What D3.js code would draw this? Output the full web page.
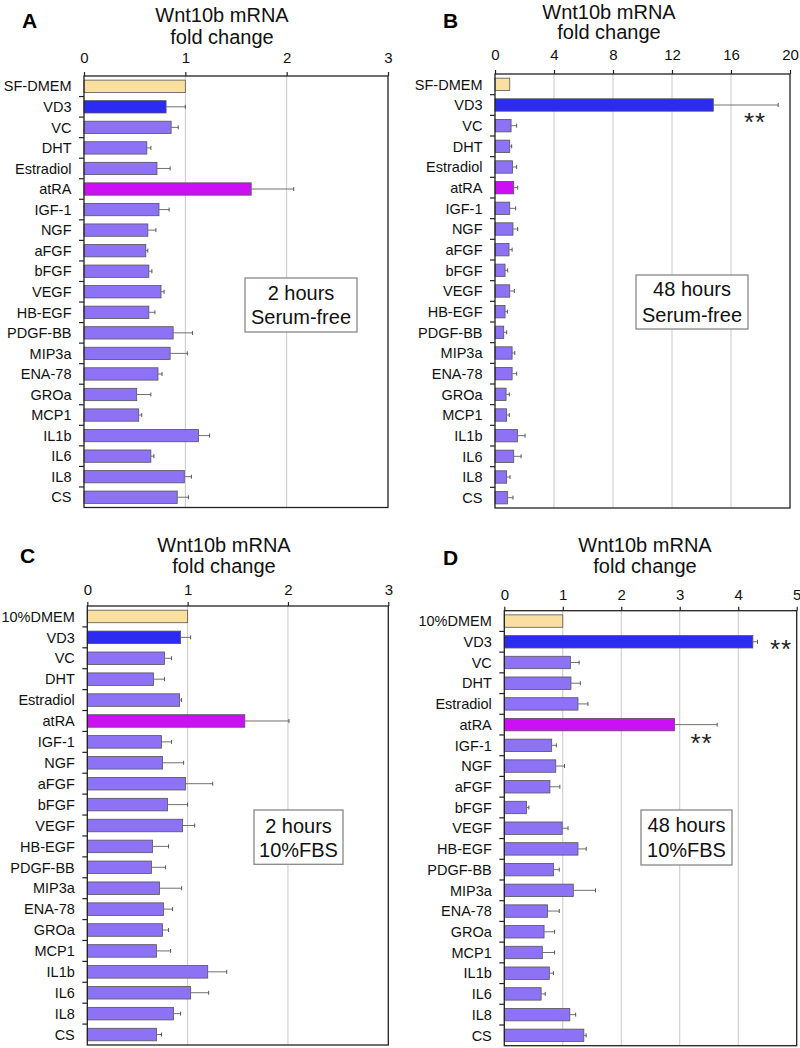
<!DOCTYPE html>
<html>
<head>
<meta charset="utf-8">
<script src="https://cdn.jsdelivr.net/npm/d3@7"></script>
<style>
  html, body { margin: 0; padding: 0; background: #fff; }
  svg { display: block; font-family: "Liberation Sans", Arial, sans-serif; }
</style>
</head>
<body>
<svg id="chart" width="800" height="1048"></svg>
<script>
// ---------- DATA ----------
const catsSF = ["SF-DMEM","VD3","VC","DHT","Estradiol","atRA","IGF-1","NGF","aFGF","bFGF","VEGF","HB-EGF","PDGF-BB","MIP3a","ENA-78","GROa","MCP1","IL1b","IL6","IL8","CS"];
const catsFBS = ["10%DMEM","VD3","VC","DHT","Estradiol","atRA","IGF-1","NGF","aFGF","bFGF","VEGF","HB-EGF","PDGF-BB","MIP3a","ENA-78","GROa","MCP1","IL1b","IL6","IL8","CS"];

const valuesA = [1.0,0.81,0.86,0.62,0.72,1.65,0.74,0.63,0.61,0.64,0.76,0.64,0.88,0.85,0.73,0.52,0.54,1.13,0.66,0.99,0.92];
const errorsA = [0,0.19,0.07,0.04,0.13,0.42,0.10,0.08,0.02,0.03,0.03,0.06,0.19,0.17,0.04,0.14,0.03,0.11,0.03,0.07,0.11];

const valuesB = [1.0,14.8,1.09,1.0,1.18,1.27,1.0,1.22,0.95,0.68,1.0,0.68,0.59,1.16,1.16,0.75,0.79,1.52,1.27,0.79,0.84];
const errorsB = [0,4.4,0.38,0.13,0.29,0.27,0.40,0.32,0.21,0.18,0.31,0.16,0.20,0.18,0.31,0.22,0.18,0.52,0.50,0.23,0.38];

const valuesC = [1.0,0.93,0.77,0.66,0.92,1.57,0.74,0.75,0.98,0.80,0.95,0.65,0.64,0.72,0.76,0.75,0.69,1.20,1.03,0.86,0.69];
const errorsC = [0,0.10,0.07,0.11,0.02,0.44,0.10,0.21,0.27,0.20,0.12,0.16,0.14,0.22,0.09,0.06,0.14,0.19,0.18,0.07,0.05];

const valuesD = [1.0,4.25,1.13,1.14,1.26,2.91,0.81,0.88,0.78,0.38,0.99,1.26,0.84,1.18,0.74,0.68,0.65,0.77,0.63,1.12,1.36];
const errorsD = [0,0.08,0.15,0.16,0.17,0.73,0.08,0.15,0.17,0.04,0.10,0.14,0.10,0.38,0.20,0.18,0.21,0.07,0.07,0.10,0.04];

const ticksA = [0,1,2,3];
const ticksB = [0,4,8,12,16,20];
const ticksC = [0,1,2,3];
const ticksD = [0,1,2,3,4,5];

const titleLines = ["Wnt10b mRNA","fold change"];
const boxA = ["2 hours","Serum-free"];
const boxB = ["48 hours","Serum-free"];
const boxC = ["2 hours","10%FBS"];
const boxD = ["48 hours","10%FBS"];

// ---------- STYLE ----------
const colorControl = "#F9E0A0";
const colorVD3 = "#2B2BF2";
const colorAtRA = "#CC0FF5";
const colorOther = "#8E72F6";
function barColor(cat, i) {
  if (i === 0) return colorControl;
  if (cat === "VD3") return colorVD3;
  if (cat === "atRA") return colorAtRA;
  return colorOther;
}

const svg = d3.select("#chart");

function panel(cfg) {
  const g = svg.append("g");
  const x = d3.scaleLinear().domain([0, cfg.ticks[cfg.ticks.length-1]]).range([cfg.x0, cfg.x1]);
  const y = d3.scaleBand().domain(cfg.cats).range([cfg.y0, cfg.y1]).paddingInner(0.4).paddingOuter(0.2);
  const step = y.step();

  // gridlines
  g.append("g").selectAll("line").data(cfg.ticks.slice(1, -1)).join("line")
    .attr("x1", d => x(d)).attr("x2", d => x(d))
    .attr("y1", cfg.y0).attr("y2", cfg.y1)
    .attr("stroke", "#c8c8c8").attr("stroke-width", 1);

  // bars
  const data = cfg.cats.map((c, i) => ({cat: c, v: cfg.values[i], e: cfg.errors[i], i}));
  g.append("g").selectAll("rect").data(data).join("rect")
    .attr("x", x(0)).attr("y", d => y(d.cat))
    .attr("width", d => x(d.v) - x(0)).attr("height", y.bandwidth())
    .attr("fill", d => barColor(d.cat, d.i))
    .attr("stroke", "#555").attr("stroke-width", 0.8);

  // error bars
  const eg = g.append("g").selectAll("g").data(data.filter(d => d.e > 0)).join("g");
  eg.append("line")
    .attr("x1", d => x(d.v)).attr("x2", d => x(d.v + d.e))
    .attr("y1", d => y(d.cat) + y.bandwidth()/2).attr("y2", d => y(d.cat) + y.bandwidth()/2)
    .attr("stroke", "#707070").attr("stroke-width", 1);
  eg.append("line")
    .attr("x1", d => x(d.v + d.e)).attr("x2", d => x(d.v + d.e))
    .attr("y1", d => y(d.cat) + y.bandwidth()/2 - 2).attr("y2", d => y(d.cat) + y.bandwidth()/2 + 2)
    .attr("stroke", "#555").attr("stroke-width", 1);

  // frame
  g.append("rect").attr("x", cfg.x0).attr("y", cfg.y0)
    .attr("width", cfg.x1 - cfg.x0).attr("height", cfg.y1 - cfg.y0)
    .attr("fill", "none").attr("stroke", "#222").attr("stroke-width", 1.3);

  // top axis ticks + labels
  const topAxis = d3.axisTop(x).tickValues(cfg.ticks).tickSize(4).tickPadding(cfg.tickPad).tickFormat(d3.format("d"));
  const ta = g.append("g").attr("transform", `translate(0,${cfg.y0})`).call(topAxis);
  ta.select(".domain").remove();
  ta.selectAll("line").attr("stroke", "#222").attr("stroke-width", 1.2);
  ta.selectAll("text").attr("font-size", 15).attr("fill", "#111")
    .attr("font-family", "Liberation Sans, Arial, sans-serif");

  // left category boundary ticks
  g.append("g").selectAll("line").data(d3.range(1, cfg.cats.length)).join("line")
    .attr("x1", cfg.x0 - 5).attr("x2", cfg.x0)
    .attr("y1", i => cfg.y0 + i*step).attr("y2", i => cfg.y0 + i*step)
    .attr("stroke", "#222").attr("stroke-width", 1.2);

  // category labels
  g.append("g").selectAll("text").data(cfg.cats).join("text")
    .attr("x", cfg.x0 - 12.5).attr("y", d => y(d) + y.bandwidth()/2)
    .attr("dy", "0.36em").attr("text-anchor", "end")
    .attr("font-size", 14.5).attr("fill", "#111").text(d => d);

  // title
  g.append("g").selectAll("text").data(titleLines).join("text")
    .attr("x", cfg.titleX).attr("y", (d, i) => cfg.titleY[i])
    .attr("text-anchor", "middle").attr("font-size", 20).attr("fill", "#111").text(d => d);

  // panel letter
  g.append("text").attr("x", cfg.letterX).attr("y", cfg.letterY)
    .attr("font-size", 21).attr("font-weight", "bold").attr("fill", "#000").text(cfg.letter);

  // condition box
  g.append("rect").attr("x", cfg.box[0]).attr("y", cfg.box[1])
    .attr("width", cfg.box[2]).attr("height", cfg.box[3])
    .attr("fill", "#fff").attr("stroke", "#888").attr("stroke-width", 1.3);
  g.append("g").selectAll("text").data(cfg.boxText).join("text")
    .attr("x", cfg.box[0] + cfg.box[2]/2).attr("y", (d, i) => cfg.boxY[i])
    .attr("text-anchor", "middle").attr("font-size", 20).attr("fill", "#111").text(d => d);

  // significance stars
  (cfg.stars || []).forEach(s => {
    g.append("text").attr("x", s.x).attr("y", s.y)
      .attr("text-anchor", "middle").attr("font-size", 26).attr("letter-spacing", 1)
      .attr("fill", "#222").text("**");
  });
}

panel({cats: catsSF, values: valuesA, errors: errorsA, ticks: ticksA,
  x0: 84, x1: 388, y0: 76, y1: 507.5, tickPad: 9,
  titleX: 222, titleY: [22, 43.5], letter: "A", letterX: 22, letterY: 28,
  box: [245, 278, 112, 54], boxText: boxA, boxY: [300, 324]});

panel({cats: catsSF, values: valuesB, errors: errorsB, ticks: ticksB,
  x0: 495, x1: 790, y0: 74, y1: 508, tickPad: 10,
  titleX: 609, titleY: [18.5, 39], letter: "B", letterX: 443, letterY: 28,
  box: [636, 275, 112, 54], boxText: boxB, boxY: [296, 321.7],
  stars: [{x: 755, y: 131}]});

panel({cats: catsFBS, values: valuesC, errors: errorsC, ticks: ticksC,
  x0: 87.3, x1: 388.3, y0: 606, y1: 1045, tickPad: 7,
  titleX: 224, titleY: [551.7, 573], letter: "C", letterX: 20, letterY: 563,
  box: [254, 810, 89, 54.3], boxText: boxC, boxY: [832.7, 857.3]});

panel({cats: catsFBS, values: valuesD, errors: errorsD, ticks: ticksD,
  x0: 504.3, x1: 796.7, y0: 610.7, y1: 1045.7, tickPad: 7,
  titleX: 645, titleY: [551.7, 573.3], letter: "D", letterX: 443, letterY: 565,
  box: [641, 810, 91, 55], boxText: boxD, boxY: [831.7, 857.3],
  stars: [{x: 781, y: 658}, {x: 701.5, y: 752}]});
</script>
</body>
</html>
